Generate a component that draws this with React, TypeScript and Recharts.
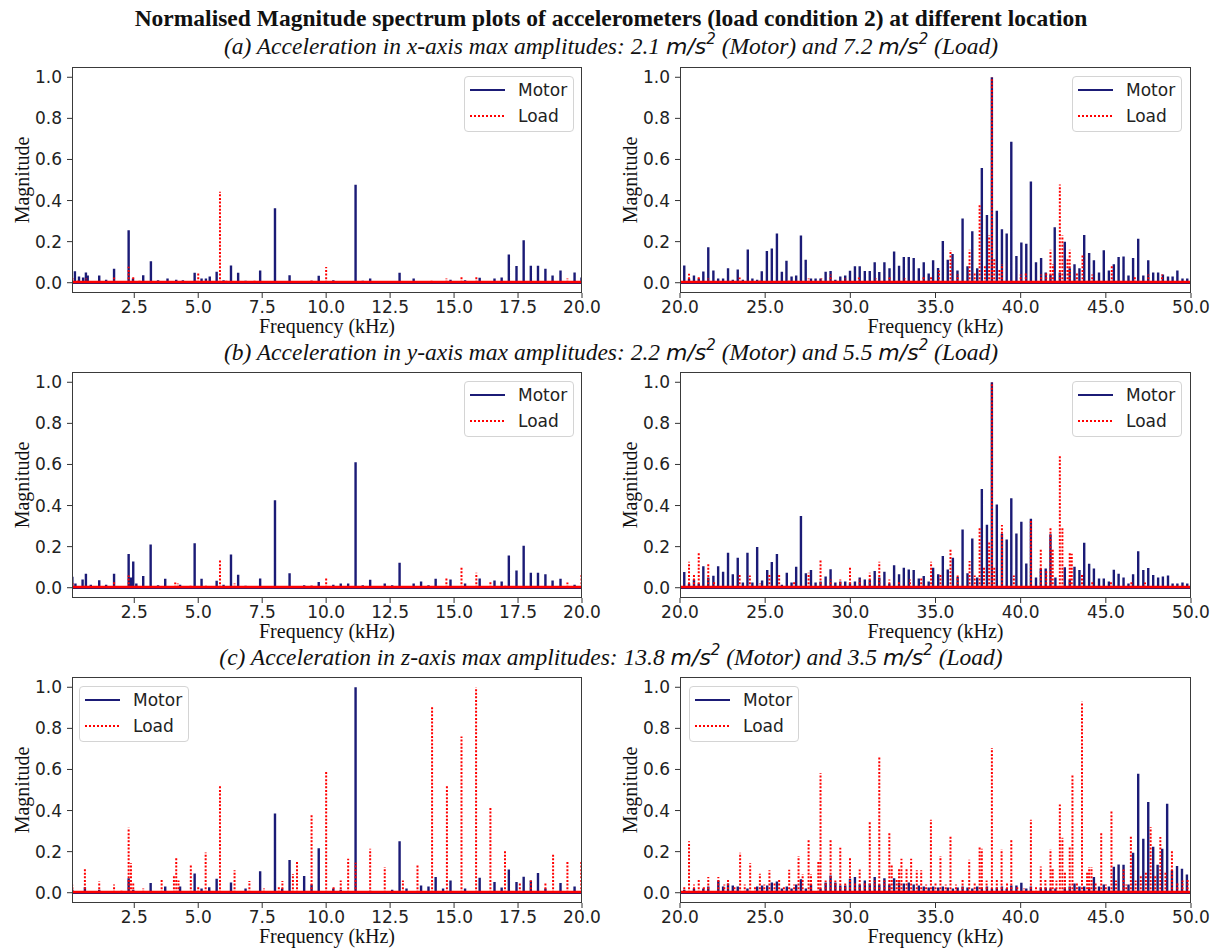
import React from 'react';
import { LineChart, Line, XAxis, YAxis, ReferenceLine } from 'recharts';

// Peak lists: [frequency kHz, normalised magnitude]
type Peak = [number, number];

const xMotorLow: Peak[] = [
  [0.18, 0.056], [0.34, 0.03], [0.5, 0.025], [0.61, 0.05], [0.68, 0.035], [1.13, 0.035], [1.4, 0.015],
  [1.71, 0.068], [2.28, 0.256], [2.45, 0.02], [2.85, 0.037], [3.15, 0.105], [3.43, 0.012], [3.8, 0.02],
  [4.14, 0.015], [4.4, 0.012], [4.86, 0.049], [5.13, 0.02], [5.3, 0.02], [5.45, 0.03], [5.72, 0.053],
  [5.99, 0.012], [6.28, 0.084], [6.56, 0.049], [6.85, 0.01], [7.42, 0.06], [8.0, 0.363], [8.57, 0.036],
  [9.43, 0.01], [9.71, 0.034], [10.28, 0.012], [11.15, 0.477], [11.43, 0.01], [11.72, 0.02], [12.87, 0.049],
  [13.42, 0.02], [14.86, 0.015], [15.43, 0.012], [16.0, 0.024], [16.58, 0.02], [16.86, 0.025], [17.14, 0.138],
  [17.44, 0.081], [17.72, 0.207], [18.0, 0.083], [18.28, 0.083], [18.57, 0.068], [18.85, 0.035], [19.16, 0.06],
  [19.71, 0.05], [19.98, 0.025],
];
const xLoadLow: Peak[] = [
  [0.1, 0.02], [0.3, 0.015], [0.62, 0.02], [1.71, 0.025], [2.28, 0.078], [2.46, 0.03], [2.7, 0.015],
  [4.9, 0.012], [5.0, 0.045], [5.3, 0.015], [5.85, 0.443], [6.1, 0.01], [7.2, 0.01], [9.43, 0.015],
  [10.0, 0.076], [14.12, 0.015], [14.7, 0.02], [15.29, 0.035], [15.87, 0.03], [18.85, 0.01], [19.43, 0.02],
];
const xMotorHigh: Peak[] = [
  [20.25, 0.084], [20.53, 0.02], [20.82, 0.035], [21.1, 0.02], [21.37, 0.055], [21.66, 0.173], [21.96, 0.06],
  [22.24, 0.02], [22.53, 0.02], [22.82, 0.07], [23.1, 0.015], [23.39, 0.064], [23.69, 0.015], [23.98, 0.162],
  [24.25, 0.02], [24.53, 0.015], [24.8, 0.056], [25.1, 0.155], [25.39, 0.167], [25.69, 0.24], [25.98, 0.053],
  [26.25, 0.107], [26.55, 0.03], [26.82, 0.035], [27.1, 0.23], [27.38, 0.112], [27.69, 0.02], [27.96, 0.02],
  [28.25, 0.02], [28.55, 0.053], [28.84, 0.057], [29.12, 0.015], [29.41, 0.03], [29.7, 0.035], [29.98, 0.058],
  [30.27, 0.08], [30.55, 0.08], [30.85, 0.057], [31.14, 0.057], [31.43, 0.1], [31.7, 0.052], [32.0, 0.1],
  [32.3, 0.07], [32.57, 0.152], [32.86, 0.083], [33.14, 0.125], [33.43, 0.125], [33.72, 0.12], [34.02, 0.07],
  [34.31, 0.1], [34.6, 0.045], [34.86, 0.11], [35.15, 0.072], [35.43, 0.203], [35.72, 0.112], [36.0, 0.14],
  [36.29, 0.06], [36.59, 0.313], [36.88, 0.08], [37.16, 0.251], [37.45, 0.07], [37.72, 0.559], [38.02, 0.33],
  [38.31, 1.0], [38.6, 0.35], [38.9, 0.26], [39.18, 0.24], [39.45, 0.686], [39.75, 0.13], [40.04, 0.196],
  [40.33, 0.19], [40.6, 0.493], [40.9, 0.1], [41.2, 0.12], [41.47, 0.05], [41.75, 0.04], [42.0, 0.27],
  [42.3, 0.05], [42.59, 0.2], [42.88, 0.07], [43.16, 0.09], [43.45, 0.07], [43.73, 0.232], [44.02, 0.145],
  [44.3, 0.11], [44.6, 0.05], [44.88, 0.158], [45.18, 0.06], [45.47, 0.09], [45.75, 0.125], [46.04, 0.128],
  [46.33, 0.035], [46.6, 0.12], [46.9, 0.214], [47.2, 0.035], [47.49, 0.11], [47.78, 0.05], [48.07, 0.05],
  [48.35, 0.04], [48.65, 0.03], [48.92, 0.03], [49.2, 0.06], [49.5, 0.02], [49.78, 0.02],
];
const xLoadHigh: Peak[] = [
  [20.53, 0.044], [21.1, 0.03], [21.66, 0.02], [23.5, 0.025], [24.7, 0.015], [26.4, 0.015], [27.55, 0.02],
  [28.3, 0.02], [28.84, 0.04], [29.7, 0.02], [30.5, 0.025], [31.5, 0.02], [32.3, 0.025], [33.2, 0.02],
  [34.3, 0.03], [34.74, 0.03], [35.2, 0.06], [35.88, 0.159], [36.3, 0.04], [37.0, 0.16], [37.3, 0.05],
  [37.59, 0.38], [37.9, 0.08], [38.15, 0.23], [38.31, 1.0], [38.45, 0.12], [38.75, 0.07], [38.9, 0.09],
  [40.0, 0.04], [40.3, 0.05], [41.2, 0.04], [41.5, 0.05], [41.75, 0.16], [41.9, 0.09], [42.3, 0.478],
  [42.45, 0.23], [42.75, 0.12], [42.88, 0.16], [43.3, 0.05], [43.63, 0.14], [44.2, 0.04], [45.35, 0.084],
  [46.7, 0.03], [47.5, 0.04], [48.3, 0.04],
];

const yMotorLow: Peak[] = [
  [0.08, 0.054], [0.2, 0.02], [0.48, 0.04], [0.61, 0.068], [0.8, 0.015], [1.13, 0.036], [1.4, 0.015],
  [1.71, 0.068], [2.28, 0.164], [2.37, 0.05], [2.46, 0.128], [2.58, 0.02], [2.85, 0.057], [3.14, 0.21],
  [3.43, 0.012], [3.71, 0.044], [4.29, 0.015], [4.86, 0.217], [5.13, 0.044], [5.72, 0.034], [5.99, 0.015],
  [6.28, 0.162], [6.56, 0.063], [6.85, 0.01], [7.42, 0.045], [8.0, 0.426], [8.57, 0.07], [9.14, 0.012],
  [9.43, 0.01], [9.71, 0.028], [10.28, 0.015], [10.57, 0.02], [10.86, 0.02], [11.15, 0.611], [11.43, 0.012],
  [11.72, 0.039], [12.29, 0.02], [12.58, 0.012], [12.87, 0.122], [13.42, 0.02], [13.71, 0.03], [14.0, 0.012],
  [14.28, 0.044], [14.86, 0.04], [15.43, 0.02], [16.0, 0.045], [16.58, 0.035], [16.86, 0.03], [17.14, 0.157],
  [17.44, 0.084], [17.72, 0.204], [18.0, 0.073], [18.28, 0.073], [18.57, 0.066], [18.85, 0.035], [19.16, 0.044],
  [19.71, 0.015],
];
const yLoadLow: Peak[] = [
  [0.1, 0.02], [0.6, 0.015], [1.71, 0.03], [2.28, 0.06], [2.6, 0.015], [4.1, 0.025], [4.2, 0.02],
  [4.7, 0.015], [5.3, 0.012], [5.85, 0.14], [6.42, 0.02], [9.43, 0.012], [10.0, 0.049], [14.7, 0.045],
  [15.29, 0.105], [15.87, 0.073], [16.42, 0.035], [17.0, 0.015], [19.43, 0.025], [19.98, 0.062],
];
const yMotorHigh: Peak[] = [
  [20.25, 0.076], [20.53, 0.02], [20.82, 0.04], [21.1, 0.02], [21.37, 0.105], [21.66, 0.05], [21.96, 0.058],
  [22.24, 0.105], [22.53, 0.078], [22.82, 0.17], [23.1, 0.065], [23.39, 0.146], [23.69, 0.025], [23.96, 0.17],
  [24.25, 0.025], [24.53, 0.198], [24.82, 0.035], [25.12, 0.086], [25.39, 0.125], [25.69, 0.164], [25.98, 0.015],
  [26.27, 0.073], [26.55, 0.025], [26.82, 0.102], [27.1, 0.349], [27.39, 0.071], [27.69, 0.086], [27.96, 0.025],
  [28.25, 0.03], [28.55, 0.055], [28.84, 0.09], [29.12, 0.025], [29.41, 0.03], [29.7, 0.03], [29.98, 0.025],
  [30.27, 0.03], [30.55, 0.05], [30.85, 0.04], [31.14, 0.04], [31.43, 0.081], [31.7, 0.05], [32.0, 0.078],
  [32.29, 0.02], [32.57, 0.109], [32.86, 0.065], [33.14, 0.097], [33.43, 0.089], [33.72, 0.086], [34.02, 0.045],
  [34.31, 0.057], [34.6, 0.03], [34.86, 0.097], [35.16, 0.065], [35.43, 0.154], [35.72, 0.089], [36.02, 0.146],
  [36.3, 0.052], [36.59, 0.284], [36.88, 0.07], [37.16, 0.24], [37.45, 0.05], [37.72, 0.481], [38.02, 0.306],
  [38.31, 1.0], [38.6, 0.405], [38.9, 0.263], [39.18, 0.235], [39.45, 0.435], [39.75, 0.264], [40.04, 0.321],
  [40.33, 0.118], [40.6, 0.336], [40.9, 0.05], [41.18, 0.094], [41.47, 0.094], [41.75, 0.26], [42.04, 0.05],
  [42.59, 0.1], [42.88, 0.04], [43.16, 0.102], [43.45, 0.086], [43.73, 0.219], [44.02, 0.117], [44.3, 0.094],
  [44.6, 0.045], [44.88, 0.045], [45.18, 0.03], [45.47, 0.088], [45.75, 0.068], [46.04, 0.05], [46.33, 0.02],
  [46.6, 0.066], [46.9, 0.178], [47.2, 0.086], [47.49, 0.096], [47.78, 0.062], [48.07, 0.05], [48.35, 0.055],
  [48.65, 0.06], [48.92, 0.02], [49.2, 0.02], [49.5, 0.025], [49.78, 0.02],
];
const yLoadHigh: Peak[] = [
  [20.53, 0.126], [20.82, 0.07], [21.1, 0.175], [21.66, 0.122], [22.0, 0.03], [23.5, 0.065], [24.1, 0.06],
  [24.7, 0.02], [25.25, 0.065], [25.82, 0.065], [26.7, 0.03], [27.55, 0.073], [28.25, 0.138], [28.84, 0.04],
  [29.41, 0.04], [29.98, 0.102], [30.55, 0.04], [31.14, 0.073], [31.7, 0.126], [32.29, 0.04], [32.86, 0.03],
  [33.5, 0.04], [34.16, 0.05], [34.74, 0.126], [35.29, 0.065], [35.88, 0.19], [36.3, 0.06], [37.0, 0.13],
  [37.3, 0.06], [37.59, 0.292], [37.85, 0.1], [38.15, 0.22], [38.31, 1.0], [38.45, 0.1], [38.9, 0.305],
  [39.6, 0.06], [40.6, 0.33], [41.18, 0.19], [41.5, 0.08], [41.75, 0.292], [41.88, 0.19], [42.3, 0.645],
  [42.45, 0.295], [42.88, 0.17], [43.0, 0.165], [43.6, 0.07], [44.2, 0.03], [45.3, 0.03], [46.5, 0.03],
  [47.3, 0.025],
];

const zMotorLow: Peak[] = [
  [0.08, 0.015], [0.57, 0.027], [1.13, 0.015], [2.28, 0.071], [2.46, 0.015], [3.14, 0.047], [3.71, 0.03],
  [4.29, 0.03], [4.86, 0.094], [5.13, 0.02], [5.43, 0.027], [5.72, 0.068], [6.28, 0.05], [6.85, 0.02],
  [7.42, 0.104], [8.0, 0.386], [8.28, 0.02], [8.57, 0.159], [9.14, 0.081], [9.43, 0.04], [9.71, 0.217],
  [10.28, 0.02], [10.57, 0.015], [11.15, 1.0], [11.72, 0.01], [12.58, 0.015], [12.87, 0.251], [13.14, 0.02],
  [13.71, 0.035], [14.0, 0.03], [14.28, 0.076], [14.57, 0.02], [14.86, 0.06], [15.43, 0.02], [16.0, 0.073],
  [16.58, 0.052], [16.86, 0.025], [17.14, 0.113], [17.44, 0.052], [17.72, 0.078], [18.0, 0.06], [18.28, 0.096],
  [18.57, 0.02], [19.16, 0.047], [19.71, 0.03],
];
const zLoadLow: Peak[] = [
  [0.08, 0.039], [0.57, 0.117], [1.13, 0.055], [1.71, 0.04], [2.0, 0.015], [2.28, 0.316], [2.37, 0.143],
  [2.46, 0.052], [2.85, 0.02], [3.57, 0.068], [4.05, 0.081], [4.14, 0.172], [4.23, 0.06], [4.71, 0.139],
  [5.0, 0.035], [5.29, 0.196], [5.85, 0.519], [6.42, 0.11], [7.0, 0.057], [7.57, 0.02], [8.15, 0.035],
  [8.29, 0.057], [8.7, 0.091], [8.86, 0.156], [9.43, 0.383], [10.0, 0.592], [10.29, 0.035], [10.57, 0.06],
  [10.86, 0.165], [11.15, 0.146], [11.72, 0.214], [12.29, 0.125], [13.0, 0.06], [13.57, 0.133], [14.14, 0.905],
  [14.72, 0.525], [15.29, 0.76], [15.86, 1.0], [16.42, 0.421], [16.99, 0.211], [17.57, 0.052], [18.0, 0.06],
  [18.57, 0.05], [18.87, 0.188], [19.43, 0.152], [19.97, 0.157],
];
const zMotorHigh: Peak[] = [
  [20.25, 0.015], [20.82, 0.02], [21.37, 0.02], [21.66, 0.03], [22.25, 0.06], [22.53, 0.03], [22.82, 0.045],
  [23.1, 0.035], [23.39, 0.03], [23.96, 0.02], [24.53, 0.03], [24.82, 0.035], [25.12, 0.035], [25.39, 0.05],
  [25.69, 0.055], [25.98, 0.02], [26.27, 0.03], [26.55, 0.02], [26.82, 0.04], [27.1, 0.065], [27.39, 0.02],
  [27.69, 0.04], [28.25, 0.02], [28.55, 0.05], [28.84, 0.084], [29.12, 0.05], [29.41, 0.035], [29.7, 0.035],
  [29.98, 0.068], [30.27, 0.076], [30.55, 0.04], [30.85, 0.06], [31.14, 0.045], [31.43, 0.076], [31.7, 0.04],
  [32.0, 0.071], [32.29, 0.04], [32.57, 0.071], [32.86, 0.05], [33.14, 0.045], [33.43, 0.05], [33.72, 0.04],
  [34.02, 0.035], [34.31, 0.03], [34.6, 0.025], [34.86, 0.03], [35.16, 0.025], [35.43, 0.03], [35.72, 0.025],
  [36.02, 0.02], [36.3, 0.025], [36.59, 0.03], [36.88, 0.025], [37.16, 0.02], [37.45, 0.03], [37.72, 0.025],
  [38.02, 0.03], [38.31, 0.02], [38.6, 0.025], [38.9, 0.03], [39.18, 0.02], [39.45, 0.035], [39.75, 0.035],
  [40.04, 0.048], [40.33, 0.02], [40.6, 0.03], [41.18, 0.025], [41.47, 0.025], [41.75, 0.02], [42.04, 0.02],
  [42.59, 0.025], [42.88, 0.03], [43.16, 0.045], [43.45, 0.03], [43.73, 0.03], [44.02, 0.025], [44.3, 0.076],
  [44.6, 0.03], [44.88, 0.04], [45.18, 0.03], [45.47, 0.126], [45.75, 0.138], [46.04, 0.136], [46.33, 0.04],
  [46.6, 0.195], [46.9, 0.579], [47.2, 0.263], [47.49, 0.441], [47.78, 0.224], [48.04, 0.136], [48.31, 0.214],
  [48.6, 0.433], [48.88, 0.11], [49.18, 0.13], [49.47, 0.117], [49.76, 0.089],
];
const zLoadHigh: Peak[] = [
  [20.25, 0.03], [20.53, 0.25], [20.82, 0.04], [21.1, 0.065], [21.4, 0.03], [21.66, 0.076], [22.25, 0.076],
  [22.6, 0.04], [22.82, 0.07], [23.2, 0.03], [23.53, 0.195], [23.8, 0.04], [24.12, 0.144], [24.4, 0.03],
  [24.69, 0.092], [24.95, 0.04], [25.25, 0.109], [25.55, 0.05], [25.82, 0.065], [26.1, 0.03], [26.41, 0.112],
  [26.7, 0.04], [26.96, 0.178], [27.2, 0.09], [27.55, 0.263], [27.69, 0.09], [28.12, 0.149], [28.25, 0.582],
  [28.55, 0.06], [28.84, 0.259], [29.12, 0.06], [29.41, 0.219], [29.7, 0.05], [29.98, 0.17], [30.27, 0.05],
  [30.55, 0.113], [30.85, 0.05], [31.14, 0.347], [31.43, 0.06], [31.7, 0.66], [32.0, 0.06], [32.29, 0.29],
  [32.43, 0.138], [32.72, 0.07], [32.86, 0.117], [33.0, 0.165], [33.3, 0.117], [33.57, 0.165], [33.9, 0.11],
  [34.16, 0.109], [34.45, 0.04], [34.73, 0.355], [35.0, 0.05], [35.29, 0.177], [35.6, 0.04], [35.88, 0.28],
  [36.2, 0.04], [36.59, 0.065], [36.98, 0.16], [37.3, 0.05], [37.59, 0.225], [37.72, 0.214], [38.0, 0.06],
  [38.31, 0.705], [38.6, 0.07], [38.88, 0.212], [39.2, 0.05], [39.45, 0.255], [39.8, 0.03], [40.2, 0.02],
  [40.6, 0.355], [40.9, 0.03], [41.18, 0.128], [41.45, 0.07], [41.75, 0.212], [41.88, 0.117], [42.1, 0.06],
  [42.3, 0.43], [42.45, 0.268], [42.6, 0.1], [42.88, 0.227], [43.04, 0.571], [43.3, 0.05], [43.6, 0.93],
  [43.9, 0.1], [44.02, 0.125], [44.16, 0.125], [44.4, 0.05], [44.73, 0.298], [45.0, 0.04], [45.33, 0.396],
  [45.6, 0.06], [46.04, 0.113], [46.2, 0.04], [46.47, 0.276], [46.75, 0.06], [47.05, 0.08], [47.35, 0.1],
  [47.63, 0.319], [47.9, 0.08], [48.2, 0.271], [48.5, 0.1], [48.88, 0.206], [49.2, 0.05], [49.5, 0.06],
  [49.8, 0.07],
];

// Axis settings
const lowDomain: [number, number] = [0.066, 20];
const highDomain: [number, number] = [20, 50];
const lowTicks = [2.5, 5, 7.5, 10, 12.5, 15, 17.5, 20];
const highTicks = [20, 25, 30, 35, 40, 45, 50];
const magTicks = [0, 0.2, 0.4, 0.6, 0.8, 1.0];
const noiseFloor = 0.004;

const SANS = '"DejaVu Sans", sans-serif';
const SERIF = '"Liberation Serif", "Times New Roman", serif';
const MOTOR_COLOR = '#1b1b76';
const LOAD_COLOR = '#ff0000';

const PLOT_H = 226;
const Y_AXIS_W = 60;
const RIGHT_PAD = 30;

type Pt = { f: number; m: number | null };

// motor: continuous trace, each peak a stick rising from zero
const spikes = (peaks: Peak[], domain: [number, number]) => {
  const pts: Pt[] = [{ f: domain[0], m: 0 }];
  [...peaks].sort((a, b) => a[0] - b[0]).forEach(([f, m]) => {
    pts.push({ f, m: 0 }, { f, m }, { f, m: 0 });
  });
  pts.push({ f: domain[1], m: 0 });
  return pts;
};

// load: separate sticks so each dotted stroke starts its own dash pattern
const sticks = (peaks: Peak[]) => {
  const pts: Pt[] = [];
  [...peaks].sort((a, b) => a[0] - b[0]).forEach(([f, m]) => {
    pts.push({ f, m: 0 }, { f, m }, { f, m: null });
  });
  return pts;
};

const LegendBox = ({ left, top }: { left: number; top: number }) => (
  <div
    style={{
      position: 'absolute', left, top, width: 110, height: 56, boxSizing: 'border-box',
      border: '1px solid #d4d4d4', borderRadius: 4, background: 'rgba(255,255,255,0.85)',
      fontFamily: SANS, fontSize: 17, color: '#222',
    }}
  >
    <svg width={110} height={56} style={{ position: 'absolute', left: -1, top: -1 }}>
      <line x1={6} x2={41} y1={14} y2={14} stroke={MOTOR_COLOR} strokeWidth={2} />
      <line x1={6} x2={41} y1={40} y2={40} stroke={LOAD_COLOR} strokeWidth={2} strokeDasharray="2 2" />
    </svg>
    <div style={{ position: 'absolute', left: 53, top: 2, lineHeight: '22px' }}>Motor</div>
    <div style={{ position: 'absolute', left: 53, top: 28, lineHeight: '22px' }}>Load</div>
  </div>
);

type PanelProps = {
  x: number;
  y: number;
  width: number;
  high: boolean;
  motor: Peak[];
  load: Peak[];
  legend: [number, number];
};

const SpectrumPanel = ({ x, y, width, high, motor, load, legend }: PanelProps) => {
  const domain = high ? highDomain : lowDomain;
  const ticks = high ? highTicks : lowTicks;
  return (
    <>
      <div style={{ position: 'absolute', left: x - Y_AXIS_W, top: y - 5 }}>
        <LineChart
          width={width + Y_AXIS_W + RIGHT_PAD}
          height={PLOT_H + 45}
          margin={{ top: 5, right: RIGHT_PAD, bottom: 0, left: 0 }}
        >
          <XAxis
            type="number"
            dataKey="f"
            domain={domain}
            ticks={ticks}
            allowDataOverflow
            height={40}
            axisLine={false}
            tickSize={5}
            tickMargin={3}
            tickLine={{ stroke: '#333' }}
            tick={{ fill: '#222', fontSize: 17, fontFamily: SANS }}
            tickFormatter={(v: number) => v.toFixed(1)}
          />
          <YAxis
            type="number"
            domain={[-0.05, 1.05]}
            ticks={magTicks}
            allowDataOverflow
            width={Y_AXIS_W}
            axisLine={false}
            tickSize={5}
            tickMargin={5}
            tickLine={{ stroke: '#333' }}
            tick={{ fill: '#222', fontSize: 17, fontFamily: SANS }}
            tickFormatter={(v: number) => v.toFixed(1)}
          />
          <Line
            data={spikes(motor, domain)}
            dataKey="m"
            type="linear"
            stroke={MOTOR_COLOR}
            strokeWidth={2.4}
            dot={false}
            activeDot={false}
            isAnimationActive={false}
          />
          <Line
            data={sticks(load)}
            dataKey="m"
            type="linear"
            connectNulls={false}
            stroke={LOAD_COLOR}
            strokeWidth={2}
            strokeDasharray="2 1.6"
            dot={false}
            activeDot={false}
            isAnimationActive={false}
          />
          <ReferenceLine y={noiseFloor} stroke={LOAD_COLOR} strokeWidth={2.5} />
        </LineChart>
      </div>
      <div
        style={{
          position: 'absolute', left: x, top: y, width, height: PLOT_H,
          boxSizing: 'border-box', border: '1px solid #3a3a3a', pointerEvents: 'none',
        }}
      />
      <div
        style={{
          position: 'absolute', left: x - 50 - 80, top: y + PLOT_H / 2 - 12, width: 160, height: 24,
          textAlign: 'center', fontFamily: SERIF, fontSize: 20, lineHeight: '24px',
          transform: 'rotate(-90deg)', color: '#111',
        }}
      >
        Magnitude
      </div>
      <div
        style={{
          position: 'absolute', left: x, top: y + PLOT_H + 21, width, textAlign: 'center',
          fontFamily: SERIF, fontSize: 20, lineHeight: '24px', color: '#111',
        }}
      >
        Frequency (kHz)
      </div>
      <LegendBox left={legend[0]} top={legend[1]} />
    </>
  );
};

const Units = () => (
  <span style={{ fontFamily: SANS, fontStyle: 'italic', fontSize: 22 }}>
    m/s<sup style={{ fontSize: 15, verticalAlign: 'top', lineHeight: '14px' }}>2</sup>
  </span>
);

const Subtitle = ({ top, tag, axis, motorAmp, loadAmp }: { top: number; tag: string; axis: string; motorAmp: string; loadAmp: string }) => (
  <div
    style={{
      position: 'absolute', left: 0, top, width: 1222, textAlign: 'center',
      fontFamily: SERIF, fontStyle: 'italic', fontSize: 23.5, lineHeight: '28px', color: '#111',
    }}
  >
    ({tag}) Acceleration in {axis}-axis max amplitudes: {motorAmp} <Units /> (Motor) and {loadAmp} <Units /> (Load)
  </div>
);

const LEFT_X = 72;
const RIGHT_X = 680;
const ROW_Y = [67, 372, 677];

export default function App() {
  return (
    <div style={{ position: 'absolute', left: 0, top: 0, width: 1222, height: 952, background: '#fff', overflow: 'hidden' }}>
      <div
        style={{
          position: 'absolute', left: 0, top: 3, width: 1222, textAlign: 'center',
          fontFamily: SERIF, fontWeight: 'bold', fontSize: 23.5, lineHeight: '30px', color: '#111',
        }}
      >
        Normalised Magnitude spectrum plots of accelerometers (load condition 2) at different location
      </div>
      <Subtitle top={32} tag="a" axis="x" motorAmp="2.1" loadAmp="7.2" />
      <Subtitle top={338} tag="b" axis="y" motorAmp="2.2" loadAmp="5.5" />
      <Subtitle top={643} tag="c" axis="z" motorAmp="13.8" loadAmp="3.5" />

      <SpectrumPanel x={LEFT_X} y={ROW_Y[0]} width={510} high={false} motor={xMotorLow} load={xLoadLow} legend={[464, 76]} />
      <SpectrumPanel x={RIGHT_X} y={ROW_Y[0]} width={511} high motor={xMotorHigh} load={xLoadHigh} legend={[1072, 76]} />
      <SpectrumPanel x={LEFT_X} y={ROW_Y[1]} width={510} high={false} motor={yMotorLow} load={yLoadLow} legend={[464, 381]} />
      <SpectrumPanel x={RIGHT_X} y={ROW_Y[1]} width={511} high motor={yMotorHigh} load={yLoadHigh} legend={[1072, 381]} />
      <SpectrumPanel x={LEFT_X} y={ROW_Y[2]} width={510} high={false} motor={zMotorLow} load={zLoadLow} legend={[79, 686]} />
      <SpectrumPanel x={RIGHT_X} y={ROW_Y[2]} width={511} high motor={zMotorHigh} load={zLoadHigh} legend={[689, 686]} />
    </div>
  );
}
